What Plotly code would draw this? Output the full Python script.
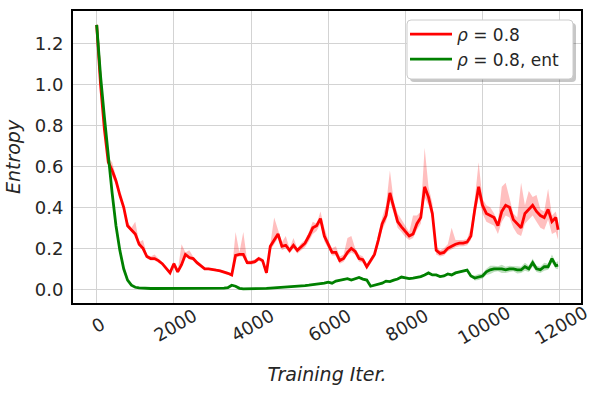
import plotly.graph_objects as go

iterations = list(range(0, 12000, 100)) + [11960]

red_mean = [1.29, 1.00, 0.78, 0.62, 0.58, 0.53, 0.46, 0.40, 0.31, 0.29,
            0.27, 0.22, 0.20, 0.16, 0.15, 0.15, 0.14, 0.125, 0.10, 0.08,
            0.125, 0.085, 0.12, 0.17, 0.155, 0.15, 0.13, 0.115, 0.10, 0.10,
            0.095, 0.093, 0.09, 0.085, 0.078, 0.07, 0.165, 0.17, 0.17, 0.13,
            0.13, 0.135, 0.15, 0.14, 0.08, 0.21, 0.24, 0.27, 0.21, 0.215,
            0.19, 0.215, 0.19, 0.21, 0.225, 0.26, 0.30, 0.31, 0.345, 0.26,
            0.22, 0.18, 0.18, 0.14, 0.15, 0.18, 0.20, 0.185, 0.15, 0.145,
            0.11, 0.14, 0.17, 0.24, 0.32, 0.36, 0.47, 0.40, 0.33, 0.305,
            0.28, 0.26, 0.27, 0.32, 0.35, 0.50, 0.45, 0.37, 0.19, 0.175,
            0.18, 0.20, 0.21, 0.22, 0.225, 0.225, 0.23, 0.26, 0.39, 0.50,
            0.41, 0.37, 0.36, 0.35, 0.31, 0.38, 0.41, 0.40, 0.34, 0.32,
            0.30, 0.37, 0.39, 0.41, 0.38, 0.36, 0.35, 0.39, 0.33, 0.35,
            0.29]

red_upper = [1.29, 1.02, 0.80, 0.64, 0.62, 0.55, 0.47, 0.41, 0.33, 0.30,
             0.33, 0.23, 0.24, 0.17, 0.16, 0.17, 0.15, 0.13, 0.11, 0.09,
             0.135, 0.09, 0.22, 0.18, 0.19, 0.16, 0.14, 0.12, 0.105, 0.105,
             0.10, 0.097, 0.095, 0.09, 0.083, 0.08, 0.28, 0.18, 0.28, 0.14,
             0.14, 0.145, 0.16, 0.15, 0.09, 0.23, 0.35, 0.29, 0.23, 0.26,
             0.20, 0.25, 0.20, 0.225, 0.24, 0.28, 0.33, 0.32, 0.38, 0.30,
             0.24, 0.20, 0.21, 0.16, 0.17, 0.25, 0.26, 0.20, 0.17, 0.16,
             0.12, 0.15, 0.18, 0.27, 0.35, 0.41, 0.58, 0.43, 0.37, 0.34,
             0.31, 0.28, 0.36, 0.36, 0.38, 0.69, 0.50, 0.42, 0.21, 0.19,
             0.20, 0.22, 0.30, 0.24, 0.24, 0.24, 0.245, 0.30, 0.44, 0.62,
             0.44, 0.41, 0.40, 0.37, 0.33, 0.50, 0.52, 0.44, 0.37, 0.35,
             0.52, 0.41, 0.48, 0.45, 0.46, 0.39, 0.38, 0.49, 0.36, 0.38,
             0.33]

red_lower = [1.28, 0.98, 0.76, 0.60, 0.55, 0.51, 0.45, 0.39, 0.30, 0.28,
             0.26, 0.21, 0.19, 0.15, 0.14, 0.14, 0.13, 0.12, 0.095, 0.075,
             0.115, 0.08, 0.11, 0.16, 0.145, 0.14, 0.12, 0.11, 0.095, 0.095,
             0.09, 0.088, 0.085, 0.08, 0.073, 0.065, 0.155, 0.16, 0.16, 0.12,
             0.12, 0.125, 0.14, 0.13, 0.07, 0.19, 0.22, 0.25, 0.19, 0.20,
             0.175, 0.20, 0.175, 0.19, 0.205, 0.235, 0.27, 0.285, 0.32, 0.235,
             0.20, 0.165, 0.165, 0.125, 0.135, 0.165, 0.18, 0.17, 0.135, 0.13,
             0.095, 0.125, 0.155, 0.22, 0.29, 0.33, 0.43, 0.37, 0.30, 0.28,
             0.255, 0.24, 0.25, 0.29, 0.32, 0.45, 0.41, 0.34, 0.17, 0.16,
             0.165, 0.185, 0.195, 0.205, 0.21, 0.21, 0.215, 0.24, 0.35, 0.45,
             0.37, 0.33, 0.32, 0.31, 0.27, 0.33, 0.36, 0.35, 0.30, 0.27,
             0.26, 0.32, 0.34, 0.36, 0.33, 0.30, 0.29, 0.34, 0.27, 0.28,
             0.24]

green_mean = [1.29, 1.04, 0.84, 0.65, 0.47, 0.31, 0.19, 0.10, 0.045, 0.02,
              0.01, 0.007, 0.005, 0.004, 0.004, 0.004, 0.004, 0.004, 0.004, 0.004,
              0.004, 0.004, 0.005, 0.005, 0.005, 0.005, 0.005, 0.005, 0.006, 0.006,
              0.006, 0.006, 0.006, 0.006, 0.008, 0.02, 0.015, 0.005, 0.002, 0.002,
              0.002, 0.003, 0.004, 0.005, 0.005, 0.006, 0.007, 0.008, 0.01, 0.01,
              0.012, 0.014, 0.015, 0.016, 0.018, 0.02, 0.022, 0.024, 0.027, 0.03,
              0.035, 0.03, 0.04, 0.045, 0.05, 0.052, 0.045, 0.05, 0.058, 0.05,
              0.045, 0.015, 0.02, 0.025, 0.03, 0.04, 0.038, 0.045, 0.05, 0.06,
              0.055, 0.052, 0.055, 0.058, 0.062, 0.07, 0.08, 0.07, 0.07, 0.062,
              0.065, 0.075, 0.07, 0.08, 0.085, 0.09, 0.094, 0.065, 0.055, 0.06,
              0.065, 0.085, 0.095, 0.10, 0.10, 0.10, 0.095, 0.10, 0.10, 0.095,
              0.095, 0.11, 0.10, 0.13, 0.10, 0.095, 0.11, 0.11, 0.15, 0.115,
              0.118]

green_spread = [0.004] * 98 + [0.012, 0.015, 0.012, 0.015, 0.02, 0.015, 0.012,
                               0.02, 0.015, 0.015, 0.012, 0.018, 0.015, 0.02,
                               0.015, 0.02, 0.015, 0.015, 0.02, 0.015, 0.02,
                               0.015, 0.02]

green_upper = [m + s for m, s in zip(green_mean, green_spread)]
green_lower = [m - s for m, s in zip(green_mean, green_spread)]

x_ticks = [0, 2000, 4000, 6000, 8000, 10000, 12000]
x_tick_labels = ["0", "2000", "4000", "6000", "8000", "10000", "12000"]
y_ticks = [0.0, 0.2, 0.4, 0.6, 0.8, 1.0, 1.2]
y_tick_labels = ["0.0", "0.2", "0.4", "0.6", "0.8", "1.0", "1.2"]


def centered_label(s):
    # trailing figure/punctuation spaces so every rotated label's visible
    # centre sits at the same offset from its anchor
    pad = 5 - len(s)
    return s + "\u2007" * (pad // 2) + ("\u2008" if pad % 2 else "")


fig = go.Figure()

fig.add_trace(go.Scatter(x=iterations, y=red_upper, mode="lines", line=dict(width=0),
                         showlegend=False, hoverinfo="skip"))
fig.add_trace(go.Scatter(x=iterations, y=red_lower, mode="lines", line=dict(width=0),
                         fill="tonexty", fillcolor="rgba(255,0,0,0.25)",
                         showlegend=False, hoverinfo="skip"))
fig.add_trace(go.Scatter(x=iterations, y=green_upper, mode="lines", line=dict(width=0),
                         showlegend=False, hoverinfo="skip"))
fig.add_trace(go.Scatter(x=iterations, y=green_lower, mode="lines", line=dict(width=0),
                         fill="tonexty", fillcolor="rgba(0,128,0,0.25)",
                         showlegend=False, hoverinfo="skip"))

fig.add_trace(go.Scatter(x=iterations, y=red_mean, mode="lines",
                         line=dict(color="#ff0000", width=2.8),
                         name="<i>ρ</i> = 0.8"))
fig.add_trace(go.Scatter(x=iterations, y=green_mean, mode="lines",
                         line=dict(color="#008000", width=2.8),
                         name="<i>ρ</i> = 0.8, ent"))

# legend frame (rounded, with shadow) in paper coordinates
L, R, T, B = 73.0, 581.0, 11.0, 303.0


def px(xp):
    return (xp - L) / (R - L)


def py(yp):
    return (B - yp) / (B - T)


def rounded(x0, y0, x1, y1, r=4):
    return (f"M {px(x0 + r)},{py(y0)} L {px(x1 - r)},{py(y0)} "
            f"Q {px(x1)},{py(y0)} {px(x1)},{py(y0 + r)} "
            f"L {px(x1)},{py(y1 - r)} Q {px(x1)},{py(y1)} {px(x1 - r)},{py(y1)} "
            f"L {px(x0 + r)},{py(y1)} Q {px(x0)},{py(y1)} {px(x0)},{py(y1 - r)} "
            f"L {px(x0)},{py(y0 + r)} Q {px(x0)},{py(y0)} {px(x0 + r)},{py(y0)} Z")


fig.add_shape(type="path", xref="paper", yref="paper",
              path=rounded(410, 23, 576, 82), fillcolor="rgba(0,0,0,0.22)",
              line=dict(width=0), layer="above")
fig.add_shape(type="path", xref="paper", yref="paper",
              path=rounded(407, 20, 573, 79), fillcolor="white",
              line=dict(color="#cccccc", width=1), layer="above")

fig.update_layout(
    width=598, height=393,
    margin=dict(l=73, r=17, t=11, b=90),
    paper_bgcolor="white", plot_bgcolor="white",
    font=dict(family="DejaVu Sans", color="#262626", size=18),
    legend=dict(x=px(405), y=py(16.5), xanchor="left", yanchor="top",
                bgcolor="rgba(0,0,0,0)", borderwidth=0,
                font=dict(size=17, color="#262626"),
                traceorder="normal", itemwidth=42),
    xaxis=dict(range=[-614, 12553], tickvals=x_ticks,
               ticktext=[centered_label(s) for s in x_tick_labels], tickangle=-30,
               ticklabelshift=25, ticklabelstandoff=-9, automargin=False,
               showgrid=True, gridcolor="#d3d3d3", gridwidth=1.3,
               zeroline=False, showline=True, linecolor="black", linewidth=2,
               mirror=True, ticks="", tickfont=dict(size=18),
               title=dict(text="<i>Training Iter.</i>", font=dict(size=19), standoff=20)),
    yaxis=dict(range=[-0.0668, 1.3576], tickvals=y_ticks,
               ticktext=y_tick_labels, automargin=False, ticklabelstandoff=4,
               showgrid=True, gridcolor="#d3d3d3", gridwidth=1.3,
               zeroline=False, showline=True, linecolor="black", linewidth=2,
               mirror=True, ticks="", tickfont=dict(size=18),
               title=dict(text="<i>Entropy</i>", font=dict(size=19), standoff=9)),
)

fig.write_html("out.html", config={"displayModeBar": False},
               post_script="document.body.style.margin='0';")
